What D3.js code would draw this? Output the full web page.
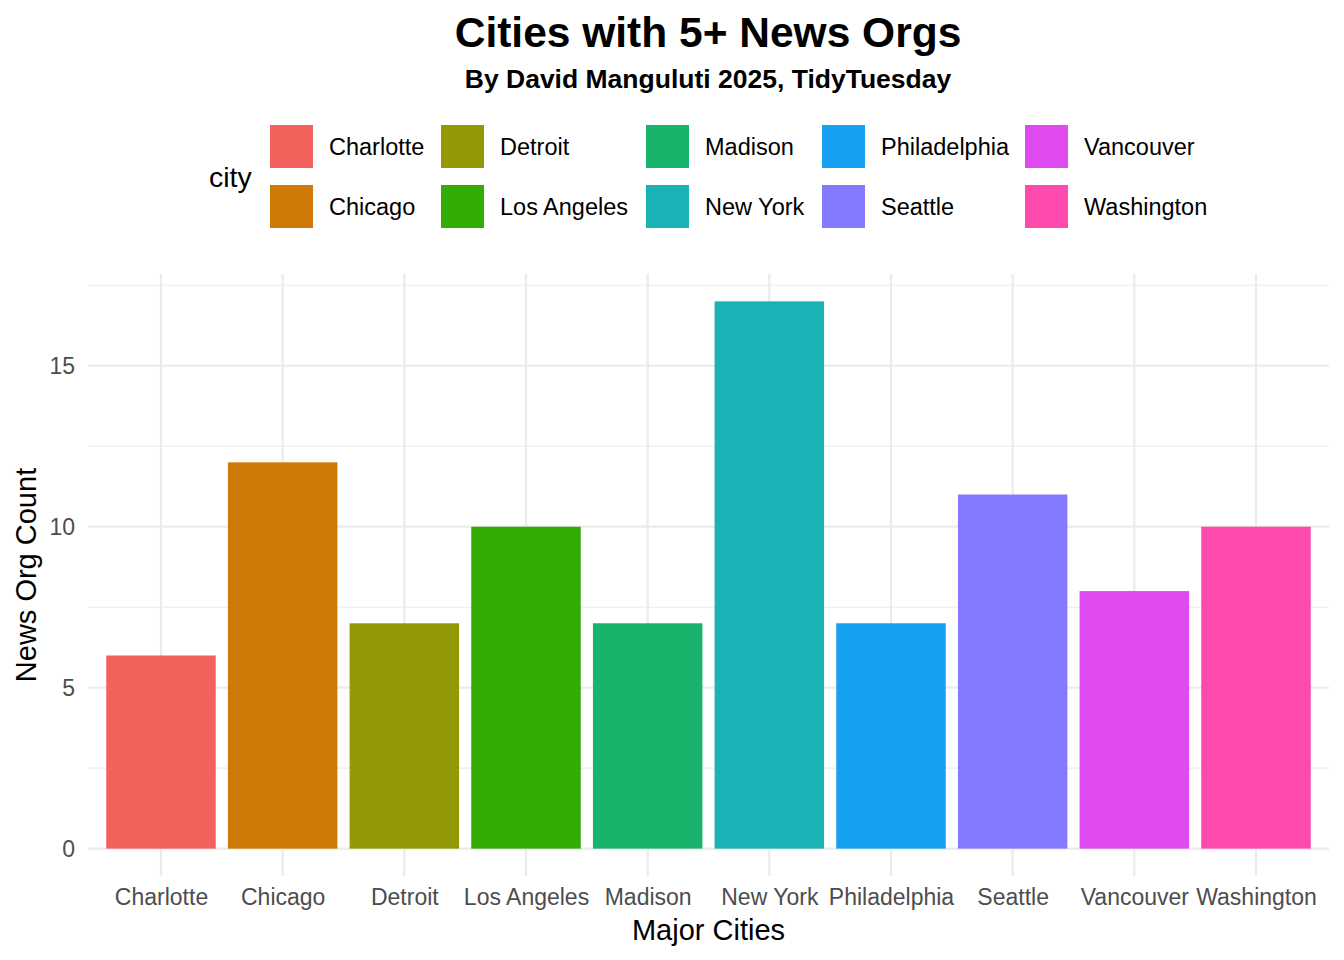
<!DOCTYPE html>
<html>
<head>
<meta charset="utf-8">
<script src="https://cdn.jsdelivr.net/npm/d3@7"></script>
<style>
  html, body { margin: 0; padding: 0; background: #fff; }
  svg { display: block; font-family: "Liberation Sans", Arial, Helvetica, sans-serif; }
</style>
</head>
<body>
<div id="chart"></div>
<script>
// Data.
const cities = ['Charlotte', 'Chicago', 'Detroit', 'Los Angeles', 'Madison',
                'New York', 'Philadelphia', 'Seattle', 'Vancouver', 'Washington'];
const orgCounts = [6, 12, 7, 10, 7, 17, 7, 11, 8, 10];
const cityColors = ['#F3615C', '#CD7B06', '#939904', '#33AC03', '#19B46B',
                    '#19B3B6', '#16A0F0', '#847AFF', '#DF4BF0', '#FE4AAC'];
const yTicks = [0, 5, 10, 15];
const yMinor = [2.5, 7.5, 12.5, 17.5];

const W = 1344, H = 960;
const panel = { left: 88, right: 1329, top: 274, bottom: 876 };

const svg = d3.select('#chart').append('svg')
    .attr('width', W).attr('height', H);

// ggplot-like expansion: discrete 0.6 units each side, continuous 5%.
const n = cities.length;
const step = (panel.right - panel.left) / (n - 1 + 1.2);
const x = d3.scalePoint()
    .domain(cities)
    .range([panel.left + 0.6 * step, panel.right - 0.6 * step]);
const barW = step * 0.9;

const yMax = d3.max(orgCounts);
const y = d3.scaleLinear()
    .domain([-0.05 * yMax, yMax * 1.05])
    .range([panel.bottom, panel.top]);

const color = d3.scaleOrdinal().domain(cities).range(cityColors);

// Grid
const grid = svg.append('g');
grid.selectAll('line.minor')
    .data(yMinor)
    .join('line')
    .attr('x1', panel.left).attr('x2', panel.right)
    .attr('y1', d => y(d)).attr('y2', d => y(d))
    .attr('stroke', '#EBEBEB').attr('stroke-width', 1.1);
grid.selectAll('line.major-y')
    .data(yTicks)
    .join('line')
    .attr('x1', panel.left).attr('x2', panel.right)
    .attr('y1', d => y(d)).attr('y2', d => y(d))
    .attr('stroke', '#EBEBEB').attr('stroke-width', 2.2);
grid.selectAll('line.major-x')
    .data(cities)
    .join('line')
    .attr('x1', d => x(d)).attr('x2', d => x(d))
    .attr('y1', panel.top).attr('y2', panel.bottom)
    .attr('stroke', '#EBEBEB').attr('stroke-width', 2.2);

// Bars
svg.append('g').selectAll('rect')
    .data(cities.map((c, i) => ({ city: c, value: orgCounts[i] })))
    .join('rect')
    .attr('x', d => x(d.city) - barW / 2)
    .attr('width', barW)
    .attr('y', d => y(d.value))
    .attr('height', d => y(0) - y(d.value))
    .attr('fill', d => color(d.city));

// Axes (labels only, ggplot minimal has no axis lines)
const xAxis = svg.append('g')
    .attr('transform', `translate(0, ${panel.bottom})`)
    .call(d3.axisBottom(x).tickSize(0).tickPadding(13));
xAxis.select('.domain').remove();
xAxis.selectAll('text')
    .attr('fill', '#4D4D4D')
    .style('font-size', '23px')
    .style('font-family', 'inherit');

const yAxis = svg.append('g')
    .attr('transform', `translate(${panel.left}, 0)`)
    .call(d3.axisLeft(y).tickValues(yTicks).tickSize(0).tickPadding(13));
yAxis.select('.domain').remove();
yAxis.selectAll('text')
    .attr('fill', '#4D4D4D')
    .style('font-size', '23px')
    .style('font-family', 'inherit');

// Axis titles
svg.append('text')
    .attr('x', (panel.left + panel.right) / 2).attr('y', 940)
    .attr('text-anchor', 'middle')
    .style('font-size', '29px')
    .text('Major Cities');
svg.append('text')
    .attr('transform', `translate(36, ${(panel.top + panel.bottom) / 2}) rotate(-90)`)
    .attr('text-anchor', 'middle')
    .style('font-size', '29px')
    .text('News Org Count');

// Title + subtitle
svg.append('text')
    .attr('x', 708).attr('y', 47)
    .attr('text-anchor', 'middle')
    .style('font-size', '42.5px').style('font-weight', 'bold')
    .text('Cities with 5+ News Orgs');
svg.append('text')
    .attr('x', 708).attr('y', 88)
    .attr('text-anchor', 'middle')
    .style('font-size', '26.5px').style('font-weight', 'bold')
    .text('By David Manguluti 2025, TidyTuesday');

// Legend: 2 rows, filled column by column
const legendCols = [270, 441, 646, 822, 1025];
const legendRows = [125, 185];
const key = 43;
svg.append('text')
    .attr('x', 209).attr('y', 177)
    .attr('dominant-baseline', 'central')
    .style('font-size', '28.5px')
    .text('city');
const items = svg.append('g').selectAll('g')
    .data(cities)
    .join('g')
    .attr('transform', (d, i) =>
        `translate(${legendCols[Math.floor(i / 2)]}, ${legendRows[i % 2]})`);
items.append('rect')
    .attr('width', key).attr('height', key)
    .attr('fill', d => color(d));
items.append('text')
    .attr('x', 59).attr('y', key / 2)
    .attr('dominant-baseline', 'central')
    .style('font-size', '23.5px')
    .text(d => d);
</script>
</body>
</html>
